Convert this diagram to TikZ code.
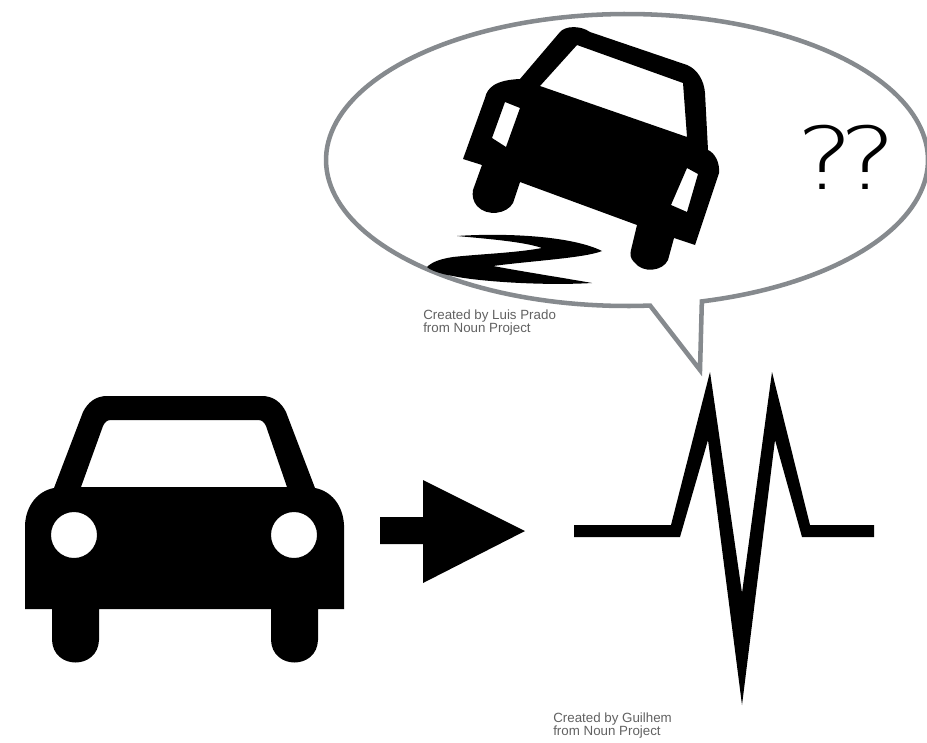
\documentclass[tikz,border=0pt]{standalone}
\usepackage{fontspec}
\setmainfont{Liberation Sans}
\newfontfamily\lightfont{DejaVu Sans ExtraLight}[FakeStretch=1.25]
\begin{document}
\begin{tikzpicture}[x=0.75pt,y=-0.75pt,
  ink/.style={fill=black,draw=none,even odd rule},
  bubble/.style={draw=bubblegray,line width=3.4pt,line join=miter},
  credit/.style={font=\fontsize{10pt}{9.75pt}\selectfont,text=black!62,align=left,anchor=north west,inner sep=0pt}]
\definecolor{bubblegray}{HTML}{868A8E}
\useasboundingbox (0,0) rectangle (927,742);
\clip (0,0) rectangle (927,742);
% speech bubble
\draw[bubble] plot[domain=75.6:-274.4,samples=180,variable=\t] ({627+301*cos(\t)},{160+146*sin(\t)}) -- (700,370) -- cycle;
% tilted car
\path[ink] (560,32) .. controls (565,26) and (580,25) .. (590,32) -- (687,65)
  .. controls (697,69) and (704,80) .. (705,93) -- (708,150) .. controls (715,153) and (720,163) .. (719,173)
  -- (695,245) -- (674,238) -- (668,260) .. controls (663,271) and (643,274) .. (634,262)
  .. controls (630,258) and (630,254) .. (631,250) -- (637,225) -- (520,182) -- (513,203)
  .. controls (507,214) and (487,217) .. (477,206) .. controls (473,201) and (472,196) .. (473,190)
  -- (482,165) -- (463,159) -- (485,98) .. controls (487,88) and (495,80) .. (520,79) -- cycle
  (577,45) -- (683,83) -- (687,137) -- (540,86) -- cycle
  (505,102) -- (520,108) -- (506,147) -- (492,138) -- cycle
  (687,168) -- (698,174) -- (687,212) -- (671,205) -- cycle;
% skid
\path[ink] (457,236) .. controls (500,233) and (570,235) .. (602,251)
  .. controls (585,258) and (530,261) .. (493,266)
  .. controls (525,272) and (570,279) .. (592,283)
  .. controls (540,286) and (475,281) .. (453,276)
  .. controls (440,274) and (430,270) .. (427,267)
  .. controls (432,262) and (440,259) .. (453,257)
  .. controls (480,254) and (515,253) .. (542,248)
  .. controls (525,242) and (490,239) .. (457,236) -- cycle;
% front car
\path[ink] (25,609) -- (25,525) .. controls (26,505) and (38,491) .. (54,488)
  -- (83,412) .. controls (88,402) and (96,396) .. (107,396) -- (262,396)
  .. controls (273,396) and (281,402) .. (286,412) -- (315,488)
  .. controls (331,491) and (343,505) .. (344,525) -- (344,609) -- (318,609) -- (318,640)
  .. controls (317,670) and (272,670) .. (271,640) -- (271,609) -- (99,609) -- (99,640)
  .. controls (98,670) and (53,670) .. (52,640) -- (52,609) -- cycle
  (81,487) -- (103,426) .. controls (105,422) and (107,420) .. (111,420) -- (258,420)
  .. controls (262,420) and (264,422) .. (266,426) -- (287,487) -- cycle
  (74,535) circle [radius=23]
  (294,535) circle [radius=23];
% arrow
\path[ink] (380,517) -- (423,517) -- (423,480) -- (525,531) -- (423,583) -- (423,544) -- (380,544) -- cycle;
% pulse
\path[ink] (574,525) -- (671,525) -- (710,372) -- (742,593) -- (772,372) -- (810,525) -- (874,525) -- (874,537)
  -- (802,537) -- (775,440) -- (742,705) -- (708,440) -- (680,537) -- (574,537) -- cycle;
% texts
\node[font=\lightfont\fontsize{65pt}{65pt}\selectfont,inner sep=0pt] (q) at (847,157) {?\kern-11pt ?};
\node[credit] (c1) at (423,310) {Created by Luis Prado\\from Noun Project};
\node[credit] (c2) at (553,713) {Created by Guilhem\\from Noun Project};
\end{tikzpicture}
\end{document}
